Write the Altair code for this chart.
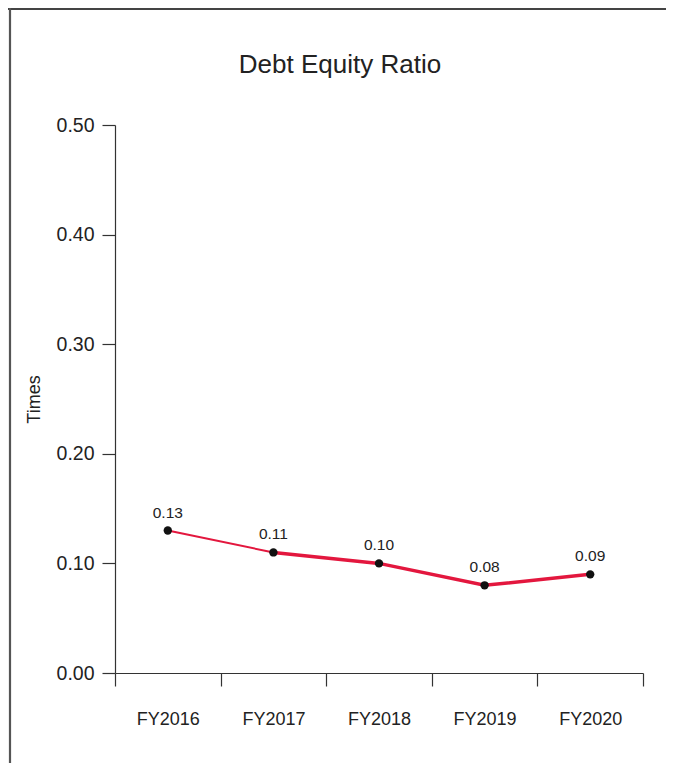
import altair as alt
import pandas as pd

years = ["FY2016", "FY2017", "FY2018", "FY2019", "FY2020"]
ratios = [0.13, 0.11, 0.10, 0.08, 0.09]
labels = ["0.13", "0.11", "0.10", "0.08", "0.09"]
y_ticks = [0.0, 0.1, 0.2, 0.3, 0.4, 0.5]
chart_title = "Debt Equity Ratio"

df = pd.DataFrame({"year": years, "ratio": ratios, "label": labels})
frame = pd.DataFrame({"k": [0]})

FONT = "Liberation Sans"
AXC = "#333333"
RED = "#e3173e"

x_enc = alt.X(
    "year:N",
    sort=years,
    scale=alt.Scale(type="band", domain=years, paddingInner=0, paddingOuter=0),
    axis=alt.Axis(
        title=None,
        labelAngle=0,
        tickBand="extent",
        tickSize=13,
        labelPadding=24,
        labelFont=FONT,
        labelFontSize=18,
        labelColor="#222222",
        domainColor=AXC,
        tickColor=AXC,
        domainWidth=1.2,
        tickWidth=1.2,
        grid=False,
    ),
)
y_enc = alt.Y(
    "ratio:Q",
    scale=alt.Scale(domain=[0, 0.5], nice=False, zero=True),
    axis=alt.Axis(
        title="Times",
        values=y_ticks,
        format=".2f",
        tickSize=13,
        labelPadding=8,
        labelFont=FONT,
        labelFontSize=19.5,
        labelColor="#222222",
        titleFont=FONT,
        titleFontSize=18,
        titleFontWeight="normal",
        titleColor="#222222",
        titlePadding=13,
        domainColor=AXC,
        tickColor=AXC,
        domainWidth=1.2,
        tickWidth=1.2,
        grid=False,
    ),
)

base = alt.Chart(df)

line_a = base.transform_filter(
    alt.FieldOneOfPredicate(field="year", oneOf=years[:2])
).mark_line(color=RED, strokeWidth=2).encode(x=x_enc, y=y_enc)

line_b = base.transform_filter(
    alt.FieldOneOfPredicate(field="year", oneOf=years[1:])
).mark_line(color=RED, strokeWidth=3.5).encode(x=x_enc, y=y_enc)

points = base.mark_point(filled=True, color="#111111", size=70, opacity=1).encode(
    x=x_enc, y=y_enc
)

texts = base.mark_text(
    font=FONT,
    fontSize=15.5,
    color="#222222",
    baseline="alphabetic",
    dy=-13,
).encode(x=x_enc, y=y_enc, text="label:N")

title_mark = alt.Chart(frame).mark_text(
    text=chart_title,
    font=FONT,
    fontSize=26,
    color="#222222",
    align="center",
    baseline="alphabetic",
).encode(x=alt.value(225), y=alt.value(-52))

top_border = alt.Chart(frame).mark_rule(color="#444444", strokeWidth=2).encode(
    x=alt.value(-107), x2=alt.value(560), y=alt.value(-116)
)
left_border = alt.Chart(frame).mark_rule(color="#555555", strokeWidth=2.2).encode(
    x=alt.value(-105), y=alt.value(-117), y2=alt.value(650)
)

chart = (
    alt.layer(line_a, line_b, points, texts, title_mark, top_border, left_border)
    .properties(
        width=528,
        height=548,
        padding={"left": 107, "top": 117, "right": 23, "bottom": 90},
        autosize=alt.AutoSizeParams(type="none"),
    )
    .configure(background="white", view=alt.ViewConfig(stroke="transparent", strokeWidth=0))
)

chart.save("out.html", embed_options={"renderer": "svg", "actions": False})
